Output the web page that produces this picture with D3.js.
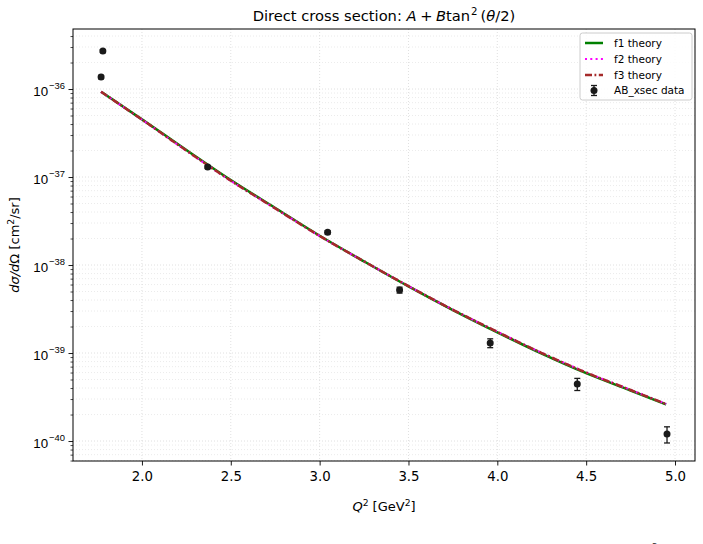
<!DOCTYPE html>
<html>
<head>
<meta charset="utf-8">
<script src="https://cdn.jsdelivr.net/npm/d3@7"></script>
<style>
  body { margin: 0; background: #fff; overflow: hidden; }
  svg { display: block; font-family: "DejaVu Sans", sans-serif; }
</style>
</head>
<body>
<svg id="chart" width="703" height="544"></svg>
<script>
// ---- Data ----
const dataQ2   = [1.77, 1.78, 2.37, 3.045, 3.45, 3.96, 4.45, 4.955];
const dataXsec = [1.37e-36, 2.7e-36, 1.30e-37, 2.35e-38, 5.2e-39, 1.30e-39, 4.45e-40, 1.2e-40];
const dataErr  = [0.06e-36, 0.1e-36, 0.05e-37, 0.1e-38, 0.4e-39, 0.15e-39, 0.7e-40, 0.25e-40];

const theoryQ2 = [1.77, 2.0, 2.25, 2.5, 2.75, 3.0, 3.25, 3.5, 3.75, 4.0, 4.25, 4.5, 4.75, 4.95];
const f1 = [9.3e-37, 4.52e-37, 2.03e-37, 9.25e-38, 4.45e-38, 2.15e-38, 1.10e-38, 5.72e-39, 3.08e-39, 1.72e-39, 0.985e-39, 5.9e-40, 3.75e-40, 2.6e-40];
const f2 = [9.28e-37, 4.48e-37, 1.99e-37, 9.05e-38, 4.39e-38, 2.135e-38, 1.10e-38, 5.77e-39, 3.11e-39, 1.745e-39, 1.005e-39, 6.03e-40, 3.81e-40, 2.64e-40];
const f3 = [9.3e-37, 4.5e-37, 2.0e-37, 9.1e-38, 4.4e-38, 2.14e-38, 1.10e-38, 5.75e-39, 3.1e-39, 1.74e-39, 1.0e-39, 6.0e-40, 3.8e-40, 2.63e-40];

const xTicks = [2.0, 2.5, 3.0, 3.5, 4.0, 4.5, 5.0];
const yDecades = [-36, -37, -38, -39, -40];
const legendLabels = ["f1 theory", "f2 theory", "f3 theory", "AB_xsec data"];

// ---- Layout ----
const L = 73, R = 695, T = 29, B = 461;
const svg = d3.select("#chart");

const x = d3.scaleLinear().domain([1.612, 5.1125]).range([L, R]);
const y = d3.scaleLog().domain([Math.pow(10, -40.227), Math.pow(10, -35.318)]).range([B, T]);

// ---- Grid ----
const grid = svg.append("g");
const minorVals = [];
for (let e = -41; e <= -35; e++) {
  for (let m = 2; m <= 9; m++) {
    const v = m * Math.pow(10, e);
    if (v >= y.domain()[0] && v <= y.domain()[1]) minorVals.push(v);
  }
}
grid.selectAll(".mg").data(minorVals).join("line")
  .attr("x1", L).attr("x2", R)
  .attr("y1", d => y(d)).attr("y2", d => y(d))
  .attr("stroke", "#e6e6e6").attr("stroke-width", 0.8).attr("stroke-dasharray", "1,2");
grid.selectAll(".Mg").data(yDecades).join("line")
  .attr("x1", L).attr("x2", R)
  .attr("y1", d => y(Math.pow(10, d))).attr("y2", d => y(Math.pow(10, d)))
  .attr("stroke", "#d8d8d8").attr("stroke-width", 0.8).attr("stroke-dasharray", "1,2");
grid.selectAll(".vg").data(xTicks).join("line")
  .attr("y1", T).attr("y2", B)
  .attr("x1", d => x(d)).attr("x2", d => x(d))
  .attr("stroke", "#d8d8d8").attr("stroke-width", 0.8).attr("stroke-dasharray", "1,2");

// ---- Axes ----
const xAxis = d3.axisBottom(x).tickValues(xTicks).tickFormat(d3.format(".1f")).tickSize(4.5).tickPadding(6);
const gx = svg.append("g").attr("transform", `translate(0,${B})`).call(xAxis);
gx.select(".domain").remove();
gx.selectAll("text").attr("font-size", "13.3px").attr("fill", "#000").attr("font-family", "DejaVu Sans");
gx.selectAll("line").attr("stroke", "#000").attr("stroke-width", 0.9);

const yAxisMinor = d3.axisLeft(y).tickValues(minorVals).tickSize(2.5).tickFormat("");
const gym = svg.append("g").attr("transform", `translate(${L},0)`).call(yAxisMinor);
gym.select(".domain").remove();
gym.selectAll("line").attr("stroke", "#000").attr("stroke-width", 0.7);

const yAxis = d3.axisLeft(y).tickValues(yDecades.map(e => Math.pow(10, e))).tickSize(4.5).tickFormat("");
const gy = svg.append("g").attr("transform", `translate(${L},0)`).call(yAxis);
gy.select(".domain").remove();
gy.selectAll("line").attr("stroke", "#000").attr("stroke-width", 0.9);
gy.selectAll(".tick").each(function(d) {
  const e = Math.round(Math.log10(d));
  const t = d3.select(this).append("text")
    .attr("x", -8).attr("y", 6).attr("text-anchor", "end")
    .attr("font-size", "13.3px").attr("fill", "#000");
  t.append("tspan").text("10");
  t.append("tspan").attr("dy", -6.5).attr("dx", 1).attr("font-size", "9.4px").text("\u2212" + Math.abs(e));
});

// spine
svg.append("rect").attr("x", L).attr("y", T).attr("width", R - L).attr("height", B - T)
  .attr("fill", "none").attr("stroke", "#000").attr("stroke-width", 1);

// ---- Theory curves ----
const line = d3.line().x(d => x(d[0])).y(d => y(d[1])).curve(d3.curveMonotoneX);
const series = [
  { vals: f1, color: "#008000", width: 2.5, dash: null },
  { vals: f2, color: "#ff00ff", width: 2.2, dash: "2,3.3" },
  { vals: f3, color: "#a52a2a", width: 2.5, dash: "7,2.5,1.8,2.5" }
];
const plotG = svg.append("g");
series.forEach(s => {
  plotG.append("path")
    .datum(theoryQ2.map((q, i) => [q, s.vals[i]]))
    .attr("d", line).attr("fill", "none")
    .attr("stroke", s.color).attr("stroke-width", s.width)
    .attr("stroke-dasharray", s.dash);
});

// ---- Data points ----
const pts = dataQ2.map((q, i) => ({ q, v: dataXsec[i], e: dataErr[i] }));
const pg = plotG.append("g");
pg.selectAll(".eb").data(pts).join("line")
  .attr("x1", d => x(d.q)).attr("x2", d => x(d.q))
  .attr("y1", d => y(d.v + d.e)).attr("y2", d => y(d.v - d.e))
  .attr("stroke", "#1a1a1a").attr("stroke-width", 1.3);
pg.selectAll(".capT").data(pts).join("line")
  .attr("x1", d => x(d.q) - 3).attr("x2", d => x(d.q) + 3)
  .attr("y1", d => y(d.v + d.e)).attr("y2", d => y(d.v + d.e))
  .attr("stroke", "#1a1a1a").attr("stroke-width", 1.3);
pg.selectAll(".capB").data(pts).join("line")
  .attr("x1", d => x(d.q) - 3).attr("x2", d => x(d.q) + 3)
  .attr("y1", d => y(d.v - d.e)).attr("y2", d => y(d.v - d.e))
  .attr("stroke", "#1a1a1a").attr("stroke-width", 1.3);
pg.selectAll("circle").data(pts).join("circle")
  .attr("cx", d => x(d.q)).attr("cy", d => y(d.v)).attr("r", 3.5)
  .attr("fill", "#1a1a1a");

// ---- Legend ----
const lg = svg.append("g");
lg.append("rect").attr("x", 580).attr("y", 33).attr("width", 112).attr("height", 67)
  .attr("rx", 2.5).attr("fill", "#fff").attr("fill-opacity", 0.85)
  .attr("stroke", "#cccccc").attr("stroke-width", 1);
const rowY = [43, 59, 75, 90.5];
series.forEach((s, i) => {
  lg.append("line").attr("x1", 585).attr("x2", 603).attr("y1", rowY[i]).attr("y2", rowY[i])
    .attr("stroke", s.color).attr("stroke-width", s.width).attr("stroke-dasharray", s.dash);
});
lg.append("line").attr("x1", 594).attr("x2", 594).attr("y1", rowY[3] - 5).attr("y2", rowY[3] + 5)
  .attr("stroke", "#1a1a1a").attr("stroke-width", 1.3);
[-5, 5].forEach(o => lg.append("line").attr("x1", 591).attr("x2", 597)
  .attr("y1", rowY[3] + o).attr("y2", rowY[3] + o).attr("stroke", "#1a1a1a").attr("stroke-width", 1.3));
lg.append("circle").attr("cx", 594).attr("cy", rowY[3]).attr("r", 3.5).attr("fill", "#1a1a1a");
legendLabels.forEach((t, i) => {
  lg.append("text").attr("x", 614).attr("y", rowY[i] + 3.8)
    .attr("font-size", "10.5px").attr("fill", "#000").text(t);
});

// ---- Title ----
const title = svg.append("text").attr("x", (L + R) / 2).attr("y", 21)
  .attr("text-anchor", "middle").attr("font-size", "14.7px").attr("fill", "#000");
title.append("tspan").text("Direct cross section: ");
title.append("tspan").attr("font-style", "italic").text("A");
title.append("tspan").attr("dx", 3.5).text("+");
title.append("tspan").attr("dx", 3.5).attr("font-style", "italic").text("B");
title.append("tspan").text("tan");
title.append("tspan").attr("dy", -6.5).attr("dx", 1).attr("font-size", "10.2px").text("2");
title.append("tspan").attr("dy", 6.5).attr("dx", 3).text("(");
title.append("tspan").attr("font-style", "italic").text("\u03b8");
title.append("tspan").text("/2)");

// ---- X label ----
const xl = svg.append("text").attr("x", (L + R) / 2).attr("y", 511)
  .attr("text-anchor", "middle").attr("font-size", "13px").attr("fill", "#000");
xl.append("tspan").attr("font-style", "italic").text("Q");
xl.append("tspan").attr("dy", -5.5).attr("font-size", "9.2px").text("2");
xl.append("tspan").attr("dy", 5.5).text(" [GeV");
xl.append("tspan").attr("dy", -5.5).attr("font-size", "9.2px").text("2");
xl.append("tspan").attr("dy", 5.5).text("]");

// ---- Y label ----
const yl = svg.append("text").attr("transform", `translate(19,${(T + B) / 2}) rotate(-90)`)
  .attr("text-anchor", "middle").attr("font-size", "13px").attr("fill", "#000");
yl.append("tspan").attr("font-style", "italic").text("d\u03c3/d");
yl.append("tspan").text("\u03a9 [cm");
yl.append("tspan").attr("dy", -5.5).attr("font-size", "9.2px").text("2");
yl.append("tspan").attr("dy", 5.5).text("/sr]");

// ---- Clipped fragment of text below the figure (only its top is visible) ----
svg.append("text").attr("x", 652).attr("y", 550).attr("font-size", "9px").attr("fill", "#333").text("2");
</script>
</body>
</html>
